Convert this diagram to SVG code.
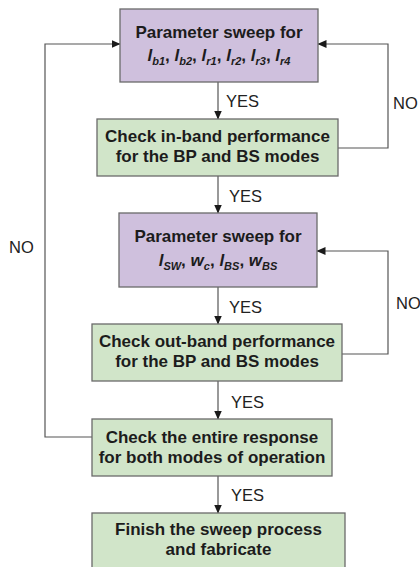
<svg xmlns="http://www.w3.org/2000/svg" width="420" height="567" viewBox="0 0 420 567">
<style>
.bp{fill:#cfc0dd;stroke:#6a6a6a;stroke-width:1.3}
.bg{fill:#d1e5c9;stroke:#6a6a6a;stroke-width:1.3}
.t{font-family:"Liberation Sans",Arial,sans-serif;font-weight:bold;font-size:17px;fill:#1c1c1c;text-anchor:middle}
.it{font-style:italic}
.sub{font-size:11px}
.lab{font-family:"Liberation Sans",Arial,sans-serif;font-size:16.5px;fill:#222}
.c{fill:none;stroke:#555;stroke-width:1.2}
</style>
<defs>
<marker id="ah" markerWidth="9" markerHeight="8" refX="8.5" refY="4" orient="auto" markerUnits="userSpaceOnUse">
<path d="M0,0 L9,4 L0,8 z" fill="#1a1a1a"/>
</marker>
</defs>
<rect width="420" height="567" fill="#ffffff"/>
<g id="connectors">
<line class="c" x1="218" y1="82" x2="218" y2="119" marker-end="url(#ah)"/>
<line class="c" x1="218" y1="176" x2="218" y2="213" marker-end="url(#ah)"/>
<line class="c" x1="218" y1="287" x2="218" y2="324" marker-end="url(#ah)"/>
<line class="c" x1="218" y1="381" x2="218" y2="419" marker-end="url(#ah)"/>
<line class="c" x1="218" y1="476" x2="218" y2="513" marker-end="url(#ah)"/>
<polyline class="c" points="338,148 388,148 388,44 318,44" marker-end="url(#ah)"/>
<polyline class="c" points="342,354 388,354 388,251 317,251" marker-end="url(#ah)"/>
<polyline class="c" points="92,437 45,437 45,44 120,44" marker-end="url(#ah)"/>
<text class="lab" x="226" y="107">YES</text>
<text class="lab" x="229" y="202">YES</text>
<text class="lab" x="229" y="313">YES</text>
<text class="lab" x="231" y="408">YES</text>
<text class="lab" x="231" y="501">YES</text>
<text class="lab" x="393" y="109">NO</text>
<text class="lab" x="396" y="309">NO</text>
<text class="lab" x="9" y="253">NO</text>
</g>
<g id="sweep1">
<rect class="bp" x="120" y="9" width="198" height="73"/>
<text class="t" x="219" y="38">Parameter sweep for</text>
<text class="t" x="219" y="61"><tspan class="it">l</tspan><tspan class="it sub" dy="4">b1</tspan><tspan dy="-4">, </tspan><tspan class="it">l</tspan><tspan class="it sub" dy="4">b2</tspan><tspan dy="-4">, </tspan><tspan class="it">l</tspan><tspan class="it sub" dy="4">r1</tspan><tspan dy="-4">, </tspan><tspan class="it">l</tspan><tspan class="it sub" dy="4">r2</tspan><tspan dy="-4">, </tspan><tspan class="it">l</tspan><tspan class="it sub" dy="4">r3</tspan><tspan dy="-4">, </tspan><tspan class="it">l</tspan><tspan class="it sub" dy="4">r4</tspan></text>
</g>
<g id="check-inband">
<rect class="bg" x="97" y="119" width="241" height="57"/>
<text class="t" x="217.5" y="142">Check in-band performance</text>
<text class="t" x="217.5" y="162">for the BP and BS modes</text>
</g>
<g id="sweep2">
<rect class="bp" x="119" y="213" width="198" height="74"/>
<text class="t" x="218" y="242">Parameter sweep for</text>
<text class="t" x="218" y="266"><tspan class="it">l</tspan><tspan class="it sub" dy="4">SW</tspan><tspan dy="-4">, </tspan><tspan class="it">w</tspan><tspan class="it sub" dy="4">c</tspan><tspan dy="-4">, </tspan><tspan class="it">l</tspan><tspan class="it sub" dy="4">BS</tspan><tspan dy="-4">, </tspan><tspan class="it">w</tspan><tspan class="it sub" dy="4">BS</tspan></text>
</g>
<g id="check-outband">
<rect class="bg" x="92" y="324" width="250" height="57"/>
<text class="t" x="217" y="347">Check out-band performance</text>
<text class="t" x="217" y="367">for the BP and BS modes</text>
</g>
<g id="check-entire">
<rect class="bg" x="92" y="419" width="240" height="57"/>
<text class="t" x="212" y="443">Check the entire response</text>
<text class="t" x="212" y="463">for both modes of operation</text>
</g>
<g id="finish">
<rect class="bg" x="92" y="513" width="253" height="60"/>
<text class="t" x="218.5" y="535">Finish the sweep process</text>
<text class="t" x="218.5" y="555">and fabricate</text>
</g>
</svg>
